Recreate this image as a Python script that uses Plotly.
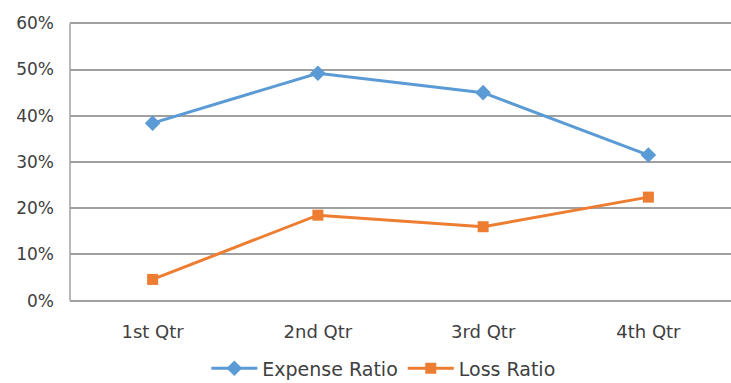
import plotly.graph_objects as go

categories = ["1st Qtr", "2nd Qtr", "3rd Qtr", "4th Qtr"]
expense_ratio = [0.384, 0.492, 0.450, 0.315]
loss_ratio = [0.046, 0.185, 0.160, 0.224]
y_ticks = [0, 0.1, 0.2, 0.3, 0.4, 0.5, 0.6]

FONT = "DejaVu Sans"
TXT = "#404040"

fig = go.Figure()
fig.add_trace(go.Scatter(
    x=categories, y=expense_ratio, name="Expense Ratio", mode="lines+markers",
    line=dict(color="#5B9BD5", width=3),
    marker=dict(symbol="diamond", size=12, color="#5B9BD5"),
))
fig.add_trace(go.Scatter(
    x=categories, y=loss_ratio, name="Loss Ratio", mode="lines+markers",
    line=dict(color="#ED7D31", width=3),
    marker=dict(symbol="square", size=11, color="#ED7D31"),
))

fig.update_layout(
    width=731, height=383,
    margin=dict(l=70, r=0, t=20.7, b=80.2, autoexpand=False),
    paper_bgcolor="white", plot_bgcolor="white",
    font=dict(family=FONT, size=16, color=TXT),
    showlegend=True,
    legend=dict(orientation="h", x=0.474, xanchor="center", y=-0.232, yanchor="middle",
                font=dict(family=FONT, size=19, color=TXT), itemwidth=46,
                traceorder="normal", borderwidth=0),
    xaxis=dict(range=[-0.5, 3.5], showgrid=False, zeroline=False, showline=False,
               ticks="", ticklabelstandoff=16, tickfont=dict(size=18, color=TXT)),
    yaxis=dict(range=[-0.005, 0.605], tickvals=y_ticks, tickformat=".0%", showgrid=True,
               gridcolor="#A0A0A0", gridwidth=1.5, zeroline=False,
               showline=False,
               ticks="", ticklabelstandoff=15, tickfont=dict(size=17, color=TXT)),
    shapes=[dict(type="line", xref="paper", yref="y", x0=0, x1=0, y0=0, y1=0.6,
                 line=dict(color="#A0A0A0", width=1.5))],
)

fig.write_html("out.html")
